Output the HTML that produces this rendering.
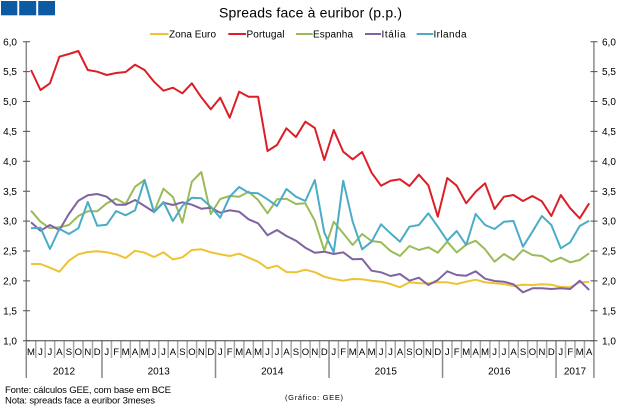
<!DOCTYPE html>
<html><head><meta charset="utf-8">
<style>
html,body{margin:0;padding:0;background:#fff;}
svg{display:block;font-family:"Liberation Sans",Arial,sans-serif;}
</style></head>
<body>
<svg width="622" height="406" viewBox="0 0 622 406" xmlns="http://www.w3.org/2000/svg">
<rect width="622" height="406" fill="#fff"/>
<!-- logo -->
<rect x="1" y="1" width="16.3" height="14.3" fill="#0b5aa3"/>
<rect x="19.2" y="1" width="17" height="14.3" fill="#0b5aa3"/>
<rect x="38.2" y="1" width="16.8" height="14.3" fill="#0b5aa3"/>
<!-- title -->
<text x="219" y="17.5" font-size="14" textLength="183" fill="#000">Spreads face à euribor (p.p.)</text>
<!-- legend -->
<g stroke-width="2">
<line x1="150" y1="34" x2="168.5" y2="34" stroke="#EEC232"/>
<line x1="228.3" y1="34" x2="246" y2="34" stroke="#DC1F26"/>
<line x1="296" y1="34" x2="312.7" y2="34" stroke="#9BBB59"/>
<line x1="365" y1="34" x2="381" y2="34" stroke="#8064A2"/>
<line x1="416.7" y1="34" x2="433.3" y2="34" stroke="#4BACC6"/>
</g>
<g font-size="10" fill="#000">
<text x="169" y="37.5" textLength="47">Zona Euro</text>
<text x="246.5" y="37.5" textLength="38">Portugal</text>
<text x="313" y="37.5" textLength="40">Espanha</text>
<text x="381.5" y="37.5" textLength="24">Itália</text>
<text x="433.5" y="37.5" textLength="33">Irlanda</text>
</g>
<!-- axes -->
<g stroke="#8a8a8a" stroke-width="1.5" fill="none">
<line x1="26.3" y1="41.7" x2="26.3" y2="378"/>
<line x1="593.9" y1="41.7" x2="593.9" y2="378"/>
<path d="M101.98 341V378M215.5 341V378M329.02 341V378M442.54 341V378M556.06 341V378"/>
</g>
<path stroke="#a8a8a8" stroke-width="1.5" fill="none" d="M35.76 341V358M45.22 341V358M54.68 341V358M64.14 341V358M73.6 341V358M83.06 341V358M92.52 341V358M111.44 341V358M120.9 341V358M130.36 341V358M139.82 341V358M149.28 341V358M158.74 341V358M168.2 341V358M177.66 341V358M187.12 341V358M196.58 341V358M206.04 341V358M224.96 341V358M234.42 341V358M243.88 341V358M253.34 341V358M262.8 341V358M272.26 341V358M281.72 341V358M291.18 341V358M300.64 341V358M310.1 341V358M319.56 341V358M338.48 341V358M347.94 341V358M357.4 341V358M366.86 341V358M376.32 341V358M385.78 341V358M395.24 341V358M404.7 341V358M414.16 341V358M423.62 341V358M433.08 341V358M452 341V358M461.46 341V358M470.92 341V358M480.38 341V358M489.84 341V358M499.3 341V358M508.76 341V358M518.22 341V358M527.68 341V358M537.14 341V358M546.6 341V358M565.52 341V358M574.98 341V358M584.44 341V358"/>
<line x1="26.3" y1="340.7" x2="593.9" y2="340.7" stroke="#404040" stroke-width="1"/>
<path stroke="#505050" stroke-width="1" fill="none" d="M23 41.7H30M23 71.6H30M23 101.5H30M23 131.4H30M23 161.3H30M23 191.2H30M23 221.1H30M23 251H30M23 280.9H30M23 310.8H30M23 340.7H30M590.5 41.7H597.5M590.5 71.6H597.5M590.5 101.5H597.5M590.5 131.4H597.5M590.5 161.3H597.5M590.5 191.2H597.5M590.5 221.1H597.5M590.5 251H597.5M590.5 280.9H597.5M590.5 310.8H597.5M590.5 340.7H597.5"/>
<!-- y labels -->
<g font-size="10" fill="#000" text-anchor="end">
<text x="17" y="45.3">6,0</text><text x="17" y="75.2">5,5</text><text x="17" y="105.1">5,0</text><text x="17" y="135">4,5</text><text x="17" y="164.9">4,0</text><text x="17" y="194.8">3,5</text><text x="17" y="224.7">3,0</text><text x="17" y="254.6">2,5</text><text x="17" y="284.5">2,0</text><text x="17" y="314.4">1,5</text><text x="17" y="344.3">1,0</text>
</g>
<g font-size="10" fill="#000">
<text x="602" y="45.3">6,0</text><text x="602" y="75.2">5,5</text><text x="602" y="105.1">5,0</text><text x="602" y="135">4,5</text><text x="602" y="164.9">4,0</text><text x="602" y="194.8">3,5</text><text x="602" y="224.7">3,0</text><text x="602" y="254.6">2,5</text><text x="602" y="284.5">2,0</text><text x="602" y="314.4">1,5</text><text x="602" y="344.3">1,0</text>
</g>
<!-- month labels -->
<g font-size="9.5" fill="#000" text-anchor="middle">
<text x="31.0" y="355">M</text><text x="40.5" y="355">J</text><text x="49.9" y="355">J</text><text x="59.4" y="355">A</text><text x="68.9" y="355">S</text><text x="78.3" y="355">O</text><text x="87.8" y="355">N</text><text x="97.2" y="355">D</text>
<text x="106.7" y="355">J</text><text x="116.2" y="355">F</text><text x="125.6" y="355">M</text><text x="135.1" y="355">A</text><text x="144.6" y="355">M</text><text x="154.0" y="355">J</text><text x="163.5" y="355">J</text><text x="172.9" y="355">A</text><text x="182.4" y="355">S</text><text x="191.9" y="355">O</text><text x="201.3" y="355">N</text><text x="210.8" y="355">D</text>
<text x="220.2" y="355">J</text><text x="229.7" y="355">F</text><text x="239.2" y="355">M</text><text x="248.6" y="355">A</text><text x="258.1" y="355">M</text><text x="267.5" y="355">J</text><text x="277.0" y="355">J</text><text x="286.5" y="355">A</text><text x="295.9" y="355">S</text><text x="305.4" y="355">O</text><text x="314.8" y="355">N</text><text x="324.3" y="355">D</text>
<text x="333.8" y="355">J</text><text x="343.2" y="355">F</text><text x="352.7" y="355">M</text><text x="362.1" y="355">A</text><text x="371.6" y="355">M</text><text x="381.1" y="355">J</text><text x="390.5" y="355">J</text><text x="400.0" y="355">A</text><text x="409.4" y="355">S</text><text x="418.9" y="355">O</text><text x="428.4" y="355">N</text><text x="437.8" y="355">D</text>
<text x="447.3" y="355">J</text><text x="456.7" y="355">F</text><text x="466.2" y="355">M</text><text x="475.7" y="355">A</text><text x="485.1" y="355">M</text><text x="494.6" y="355">J</text><text x="504.0" y="355">J</text><text x="513.5" y="355">A</text><text x="523.0" y="355">S</text><text x="532.4" y="355">O</text><text x="541.9" y="355">N</text><text x="551.3" y="355">D</text>
<text x="560.8" y="355">J</text><text x="570.3" y="355">F</text><text x="579.7" y="355">M</text><text x="589.2" y="355">A</text>
</g>
<g font-size="10" fill="#000" text-anchor="middle">
<text x="64" y="374.3">2012</text><text x="158.7" y="374.3">2013</text><text x="272.3" y="374.3">2014</text><text x="385.8" y="374.3">2015</text><text x="499.3" y="374.3">2016</text><text x="575" y="374.3">2017</text>
</g>
<!-- series -->
<g transform="translate(31.03,0) scale(9.46,1)" fill="none" stroke-width="2" stroke-linejoin="round">
<polyline vector-effect="non-scaling-stroke" stroke="#EEC232" points="0,264 1,264 2,267.7 3,271.7 4,260.7 5,254.3 6,252 7,251.3 8,252.3 9,254.3 10,258 11,250.7 12,252.7 13,257 14,252.3 15,259.5 16,257.3 17,250 18,249.3 19,252.3 20,254.3 21,256 22,253.7 23,257.7 24,261.7 25,268.3 26,265.7 27,272 28,272.3 29,269.7 30,272.2 31,276.7 32,279 33,280.7 34,279 35,279.3 36,280.7 37,281.7 38,284 39,287.3 40,282.3 41,283.3 42,283.3 43,282.3 44,282.3 45,284 46,281.7 47,279.7 48,282.3 49,283.3 50,284 51,286 52,284.7 53,285 54,284.3 55,284.7 56,287 57,287.3 58,282.3 59,282"/>
<polyline vector-effect="non-scaling-stroke" stroke="#DC1F26" points="0,70 1,90 2,83.3 3,56.7 4,54 5,51 6,70 7,71.7 8,75 9,73 10,72 11,64.7 12,70 13,81.7 14,90.7 15,87.7 16,93.3 17,83.3 18,97.3 19,109.3 20,97.7 21,117.7 22,91.7 23,96.7 24,96.7 25,151 26,145 27,128.3 28,137 29,121.7 30,128 31,160 32,130 33,151.7 34,159.3 35,152 36,172.7 37,185.7 38,180.7 39,179.3 40,186 41,174.7 42,185.3 43,216.7 44,178 45,185.7 46,203.3 47,191.7 48,183.3 49,209 50,196.7 51,195 52,201 53,196 54,201.3 55,216 56,195 57,208.3 58,218.3 59,203.3"/>
<polyline vector-effect="non-scaling-stroke" stroke="#9BBB59" points="0,210.7 1,221.7 2,228.3 3,227.3 4,225 5,216 6,211.3 7,211.3 8,203.3 9,198.7 10,204 11,186.7 12,180 13,212 14,188.7 15,197 16,222.7 17,181.7 18,172 19,214 20,199 21,196 22,196.7 23,191.7 24,200 25,213.3 26,199.3 27,198.7 28,204 29,203.3 30,220.8 31,250.7 32,221.7 33,233.3 34,245 35,234 36,241 37,242.3 38,251 39,256 40,246 41,250 42,247.3 43,252.7 44,241.7 45,252.5 46,244.7 47,240.7 48,249.3 49,261.7 50,254 51,260 52,250 53,255 54,256 55,261.7 56,257.7 57,262.3 58,260 59,253.3"/>
<polyline vector-effect="non-scaling-stroke" stroke="#8064A2" points="0,222.3 1,230.7 2,225 3,230 4,214 5,200.7 6,195.3 7,194 8,196.7 9,204.7 10,204.7 11,200 12,206 13,212 14,202.7 15,205 16,202.3 17,204.7 18,208.7 19,207.7 20,212.7 21,210.3 22,211.7 23,219.3 24,223.3 25,235.3 26,230 27,236 28,240.7 29,247.7 30,252.8 31,251.7 32,254 33,252.3 34,259.3 35,259 36,270.7 37,272.3 38,276 39,274 40,280.7 41,277.7 42,285 43,280 44,271.3 45,275 46,275.7 47,271.3 48,278.7 49,281 50,281.7 51,284.3 52,292.3 53,288.3 54,288.3 55,289 56,288.3 57,289 58,280.7 59,290"/>
<polyline vector-effect="non-scaling-stroke" stroke="#4BACC6" points="0,228.3 1,227.7 2,249 3,228.7 4,234 5,228.3 6,202 7,225.7 8,224.7 9,211 10,215.3 11,210.3 12,180 13,212.3 14,202 15,221 16,206 17,197.7 18,198.3 19,206.7 20,217.7 21,196.7 22,187 23,192.7 24,193.3 25,199.3 26,206 27,189 28,196.7 29,201 30,180 31,232.7 32,252.3 33,180.7 34,221.7 35,249.3 36,241.7 37,224.3 38,233.3 39,241.7 40,226.7 41,225 42,213.3 43,226.7 44,240.7 45,231 46,245 47,214 48,225 49,229 50,221.7 51,221 52,246.7 53,231.7 54,216 55,225 56,248.3 57,242.3 58,226 59,220.7"/>
</g>
<!-- footer -->
<g fill="#000">
<text x="5" y="393" font-size="9.5" textLength="166">Fonte: cálculos GEE, com base em BCE</text>
<text x="5" y="403.5" font-size="9.5" textLength="150">Nota: spreads face a euribor 3meses</text>
<text x="285" y="400" font-size="7.5" textLength="58">(Gráfico: GEE)</text>
</g>
</svg>
</body></html>
